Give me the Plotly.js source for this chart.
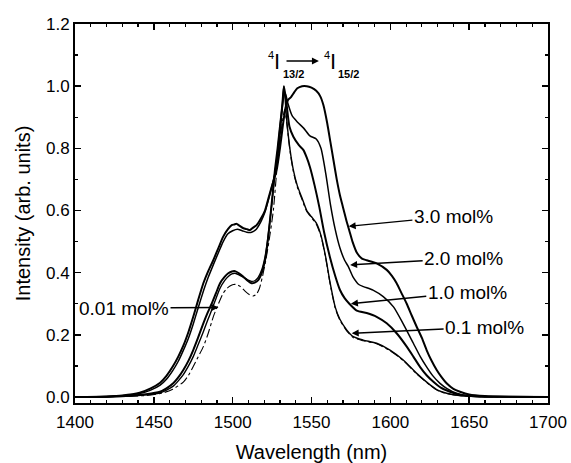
<!DOCTYPE html>
<html>
<head>
<meta charset="utf-8">
<script src="https://cdn.plot.ly/plotly-3.0.1.min.js"></script>
<style>html,body{margin:0;padding:0;background:#fff;}#chart{width:571px;height:463px;}</style>
</head>
<body>
<div id="chart"></div>
<script>
// ---- data ----
const wl_3p0 = [1400,1420,1430,1441,1448,1454,1458,1462,1465.5,1468.7,1472,1475,1478,1481.4,1484.5,1487.7,1491,1494,1497,1499.4,1501,1502.5,1504,1506.8,1509,1511,1513,1515.2,1518,1520.5,1523,1524.8,1527.9,1530,1532,1533.5,1535,1537,1539,1541,1544,1547,1550,1553,1555.5,1557.5,1560,1562,1564,1566,1568,1570,1572,1574,1576,1578.7,1582,1585,1591.3,1597.7,1601,1604,1607,1610.4,1613.5,1616.7,1620,1623,1626,1629.4,1632.5,1635.7,1640,1644.2,1650,1660,1675,1700];
const int_3p0 = [0,0.002,0.005,0.014,0.028,0.046,0.068,0.098,0.13,0.165,0.21,0.258,0.31,0.366,0.405,0.44,0.48,0.516,0.54,0.553,0.555,0.557,0.552,0.543,0.54,0.537,0.545,0.553,0.575,0.60,0.645,0.677,0.73,0.80,0.88,0.93,0.955,0.965,0.98,0.993,1.0,1.0,0.995,0.985,0.968,0.94,0.88,0.82,0.76,0.70,0.65,0.61,0.57,0.535,0.50,0.465,0.445,0.44,0.43,0.409,0.39,0.366,0.335,0.30,0.263,0.226,0.19,0.151,0.118,0.087,0.064,0.044,0.026,0.017,0.008,0.003,0.001,0];

const wl_2p0 = [1400,1420,1430,1441,1448,1454,1458,1462,1465.5,1468.7,1472,1475,1478,1481.4,1484.5,1487.7,1491,1494,1497,1500,1503,1506,1509,1512,1515,1518,1520.5,1523,1525,1528,1530,1532.5,1533.5,1535,1537.7,1541,1545,1549,1553,1556,1559,1562,1565,1568,1571,1573.3,1576.5,1580,1583,1589,1595.5,1602,1608,1614.6,1619,1623,1627,1631.5,1636,1642,1650,1665,1700];
const int_2p0 = [0,0.001,0.004,0.011,0.022,0.038,0.057,0.085,0.115,0.15,0.19,0.235,0.285,0.34,0.385,0.425,0.465,0.50,0.525,0.535,0.54,0.535,0.53,0.53,0.54,0.565,0.595,0.64,0.68,0.75,0.84,0.97,0.975,0.945,0.905,0.885,0.865,0.84,0.83,0.80,0.72,0.62,0.54,0.48,0.44,0.42,0.385,0.362,0.355,0.344,0.323,0.29,0.237,0.173,0.13,0.097,0.068,0.044,0.027,0.012,0.004,0.001,0];

const wl_1p0 = [1400,1420,1435,1445,1453.9,1458,1462.3,1465.5,1468.7,1472,1475,1478,1481.4,1484,1486.7,1489.5,1492,1495,1497.2,1499.5,1501.5,1504,1506.8,1509.5,1512,1514,1516.2,1518.5,1520.5,1522,1523.7,1525.3,1526.8,1528.5,1530,1531.5,1532.5,1534,1536,1538.5,1542,1544.8,1547,1549,1552,1555,1558,1561.7,1565,1568,1571,1574,1578.7,1585,1591.3,1597.7,1604,1610.4,1614.6,1618.8,1623,1627.3,1632,1637.8,1645,1655,1700];
const int_1p0 = [0,0.001,0.004,0.009,0.017,0.028,0.044,0.063,0.087,0.117,0.151,0.19,0.237,0.27,0.30,0.335,0.366,0.387,0.398,0.404,0.405,0.398,0.387,0.374,0.366,0.368,0.376,0.40,0.44,0.49,0.57,0.65,0.73,0.80,0.87,0.94,1.0,0.95,0.87,0.837,0.81,0.795,0.77,0.74,0.68,0.61,0.53,0.45,0.39,0.345,0.318,0.30,0.278,0.27,0.258,0.237,0.205,0.162,0.13,0.097,0.07,0.049,0.03,0.017,0.006,0.002,0];

const wl_0p1 = [1400,1420,1435,1445,1454,1458,1462.3,1465.5,1468.7,1472,1475,1478,1481.4,1484,1486.7,1489.5,1492,1495,1497.2,1499.5,1501.5,1504,1506.8,1509.5,1512,1514,1516.2,1518.5,1520.5,1522,1523.7,1525.3,1526.8,1528.5,1530,1531.5,1532.5,1534.3,1536.4,1538.5,1541,1544,1547,1550,1553,1556,1559,1561.7,1565,1568,1572.3,1576.5,1582.8,1591.3,1599.8,1608.2,1616.7,1625.2,1630,1635.7,1645,1660,1700];
const int_0p1 = [0,0.001,0.003,0.007,0.013,0.022,0.035,0.052,0.072,0.10,0.13,0.167,0.21,0.245,0.28,0.318,0.35,0.375,0.388,0.396,0.398,0.393,0.385,0.377,0.372,0.374,0.385,0.41,0.45,0.50,0.57,0.645,0.72,0.79,0.87,0.94,1.0,0.89,0.795,0.73,0.68,0.64,0.60,0.58,0.56,0.52,0.45,0.37,0.29,0.25,0.216,0.194,0.183,0.173,0.151,0.119,0.076,0.039,0.022,0.012,0.004,0.001,0];

const wl_0p01 = [1400,1430,1445,1455,1462,1468.7,1472,1475,1478,1481.4,1484.5,1487.7,1491,1494,1496.5,1498.3,1500.5,1502.5,1505,1508,1510.5,1513,1515,1517,1519,1521,1523,1525.8,1528,1530,1532,1533,1534.3,1536.4,1538.5,1541,1544,1547,1550,1553,1556,1559,1561.7,1565,1568,1572.3,1576.5,1582.8,1591.3,1599.8,1608.2,1616.7,1625.2,1630,1635.7,1645,1660,1700];
const int_0p01 = [0,0.002,0.005,0.012,0.025,0.048,0.07,0.098,0.128,0.162,0.205,0.258,0.30,0.334,0.35,0.357,0.362,0.362,0.355,0.34,0.33,0.325,0.33,0.35,0.39,0.44,0.50,0.60,0.73,0.83,0.90,0.925,0.88,0.79,0.725,0.675,0.635,0.597,0.577,0.557,0.517,0.447,0.367,0.287,0.247,0.213,0.191,0.181,0.171,0.149,0.117,0.074,0.038,0.021,0.011,0.004,0.001,0];

const seriesNames = ["3.0 mol%","2.0 mol%","1.0 mol%","0.1 mol%","0.01 mol%"];
const xTickVals = [1400,1450,1500,1550,1600,1650,1700];
const yTickVals = [0.0,0.2,0.4,0.6,0.8,1.0,1.2];
const yTickText = ["0.0","0.2","0.4","0.6","0.8","1.0","1.2"];
const xTitle = "Wavelength (nm)";
const yTitle = "Intensity (arb. units)";

// ---- traces ----
const xs = [wl_3p0, wl_2p0, wl_1p0, wl_0p1, wl_0p01];
const ys = [int_3p0, int_2p0, int_1p0, int_0p1, int_0p01];
const widths = [2, 1.5, 2, 1.4, 1.1];
const dashes = ["solid","solid","solid","solid","dashdot"];
const traces = xs.map((x, i) => ({
  x: x, y: ys[i], name: seriesNames[i], type: "scatter", mode: "lines",
  line: {color: "#000", width: widths[i], dash: dashes[i], shape: "spline", smoothing: 0.6}
}));

const F = "Liberation Sans, Arial, Helvetica, sans-serif";
function lab(text, x, y, ax, ay) {
  return {text: text, x: x, y: y, ax: ax, ay: ay, xref: "x", yref: "y", axref: "x", ayref: "y",
    showarrow: true, arrowhead: 2, arrowsize: 1, arrowwidth: 1.4, arrowcolor: "#000", standoff: 0,
    font: {family: F, size: 19, color: "#000"}};
}
function txt(text, x, y, size) {
  return {text: text, x: x, y: y, xref: "x", yref: "y", showarrow: false,
    font: {family: F, size: size, color: "#000"}};
}

const annotations = [
  lab(seriesNames[0], 1573.6, 0.549, 1640, 0.582),
  lab(seriesNames[1], 1574.5, 0.425, 1646.5, 0.446),
  lab(seriesNames[2], 1575, 0.30, 1648.8, 0.337),
  lab(seriesNames[3], 1575.5, 0.205, 1659.8, 0.225),
  lab(seriesNames[4], 1491, 0.288, 1431.1, 0.286),
  // transition label 4I13/2 -> 4I15/2
  txt("4", 1524.0, 1.100, 11),
  txt("I", 1527.8, 1.0795, 22),
  txt("<b>13/2</b>", 1538.6, 1.0376, 11),
  txt("4", 1559.8, 1.100, 11),
  txt("I", 1563.6, 1.0795, 22),
  txt("<b>15/2</b>", 1573.5, 1.0376, 11),
  {text: "", x: 1554.7, y: 1.081, ax: 1533.2, ay: 1.081, xref: "x", yref: "y", axref: "x", ayref: "y",
   showarrow: true, arrowhead: 2, arrowsize: 1, arrowwidth: 1.4, arrowcolor: "#000", standoff: 0}
];

const layout = {
  width: 571, height: 463,
  margin: {l: 75, r: 23, t: 24, b: 60, pad: 0},
  paper_bgcolor: "#fff", plot_bgcolor: "#fff",
  showlegend: false,
  font: {family: F, color: "#000"},
  xaxis: {
    range: [1400, 1700], tickvals: xTickVals, ticktext: xTickVals.map(String),
    ticks: "inside", ticklen: 6, tickwidth: 1.5, tickcolor: "#000", ticklabelstandoff: 3,
    minor: {dtick: 10, ticks: "inside", ticklen: 3, tickwidth: 1.2, tickcolor: "#000"},
    showline: true, linewidth: 2, linecolor: "#000", mirror: "allticks",
    showgrid: false, zeroline: false, automargin: false,
    tickfont: {family: F, size: 17, color: "#000"},
    title: {text: xTitle, font: {family: F, size: 20, color: "#000"}, standoff: 15}
  },
  yaxis: {
    range: [-0.0193, 1.2], tickvals: yTickVals, ticktext: yTickText,
    ticks: "inside", ticklen: 6, tickwidth: 1.5, tickcolor: "#000",
    minor: {dtick: 0.1, tick0: 0, ticks: "inside", ticklen: 3, tickwidth: 1.2, tickcolor: "#000"},
    showline: true, linewidth: 2, linecolor: "#000", mirror: "allticks",
    showgrid: false, zeroline: false, automargin: false,
    tickfont: {family: F, size: 17, color: "#000"},
    title: {text: yTitle, font: {family: F, size: 20, color: "#000"}, standoff: 10}
  },
  annotations: annotations
};

Plotly.newPlot("chart", traces, layout, {displayModeBar: false, staticPlot: true});
</script>
</body>
</html>
